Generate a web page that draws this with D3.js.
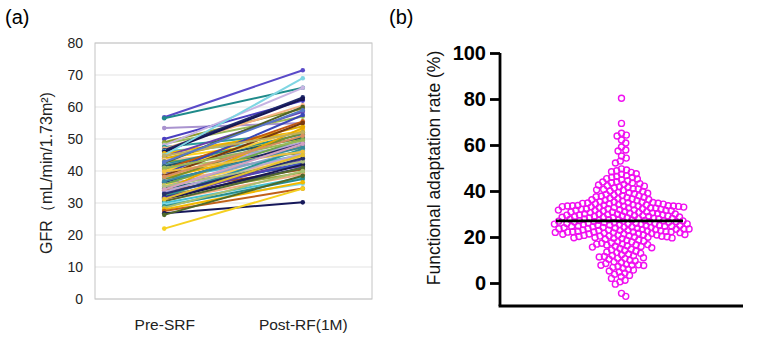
<!DOCTYPE html>
<html>
<head>
<meta charset="utf-8">
<script src="https://cdn.jsdelivr.net/npm/d3@7"></script>
<style>
  html, body { margin: 0; padding: 0; background: #fff; }
  svg { display: block; }
  text { font-family: Arial, "Liberation Sans", sans-serif; }
</style>
</head>
<body>
<svg id="chart" width="758" height="339"></svg>
<script>
// ---------------- DATA ----------------
// Panel (a): paired GFR values per patient
const timepoints = ["Pre-SRF", "Post-RF(1M)"];
const preGFR  = [56.8, 56.5, 53.4, 50.0, 49.0, 48.5, 48.0, 47.5, 47.0, 46.5, 46.2, 46.0, 45.5, 45.0, 44.5,
                 44.0, 43.8, 43.5, 43.0, 42.5, 42.0, 41.8, 41.5, 41.0, 40.5, 40.0, 39.5, 39.0, 38.8, 38.5,
                 38.0, 37.5, 37.2, 37.0, 36.5, 36.0, 35.8, 35.5, 35.0, 34.5, 34.0, 33.8, 33.5, 33.0, 32.5,
                 32.0, 31.8, 31.5, 31.0, 30.8, 30.5, 30.0, 29.5, 29.0, 28.5, 28.0, 27.5, 26.8, 26.3, 22.0,
                 44.8, 42.8, 40.8, 39.8, 38.2, 36.8, 35.2, 34.2, 32.8, 31.2];
const postGFR = [71.5, 66.0, 55.0, 62.0, 59.5, 57.0, 66.0, 52.0, 60.5, 63.0, 49.5, 62.5, 52.5, 69.0, 58.5,
                 50.0, 54.0, 47.0, 45.5, 60.0, 51.5, 48.0, 50.5, 46.0, 55.5, 53.0, 44.0, 57.5, 49.0, 55.0,
                 47.5, 45.0, 52.0, 43.0, 48.5, 41.5, 50.0, 44.5, 46.5, 42.0, 53.5, 40.5, 45.5, 42.5, 39.5,
                 47.0, 41.0, 43.5, 42.0, 39.0, 41.0, 38.0, 36.0, 37.5, 40.0, 36.5, 34.5, 30.2, 38.5, 34.5,
                 52.0, 59.0, 49.5, 46.0, 51.0, 47.5, 43.0, 48.5, 44.0, 45.0];
const gfrTicks = [0, 10, 20, 30, 40, 50, 60, 70, 80];

// Panel (b): functional adaptation rate (%) per patient
const adaptationRate = [
  80.3, 69.4, 65.1, 64.3, 63.9, 62.2, 60.9, 59.1, 57.8, 57.4, 55.2, 54.3, 53.0, 52.2,
  49.6, 49.1, 48.8, 48.4, 48.1, 47.5, 47.3, 46.7,
  46.3, 46.0, 45.9, 45.4, 45.2, 44.9, 44.5, 44.0, 43.9, 43.6, 43.5,
  43.2, 42.9, 42.6, 42.3, 42.1, 41.8, 41.5, 41.3, 41.0, 40.9, 40.7, 40.5,
  40.3, 40.0, 39.8, 39.5, 39.3, 39.0, 38.8, 38.5, 38.3, 38.0, 37.9, 37.7, 37.5,
  37.3, 37.1, 36.9, 36.7, 36.5, 36.3, 36.2, 36.0, 35.8, 35.6, 35.4, 35.2, 35.1, 35.0, 34.9, 34.8,
  34.7, 34.6, 34.5,
  34.4, 34.3, 34.1, 34.0, 33.9, 33.8, 33.7, 33.6, 33.6, 33.5, 33.5, 33.5, 33.4, 33.3, 33.2, 33.1,
  33.0, 32.9, 32.8, 32.6, 32.6, 32.5, 32.3, 32.3, 32.2, 32.0, 32.0, 31.9, 31.8, 31.7, 31.6, 31.5, 31.5,
  31.4, 31.3, 31.1, 31.0, 30.9, 30.8, 30.7, 30.6, 30.5, 30.4, 30.2, 30.1, 30.0, 29.9, 29.8, 29.7,
  29.6, 29.5, 29.4, 29.3, 29.2, 29.1, 29.0, 28.9, 28.8, 28.7, 28.6, 28.6, 28.5, 30.0,
  28.4, 28.3, 28.2, 28.1, 28.0, 27.9, 27.8, 27.7, 27.6, 27.5, 27.4, 27.3, 27.2, 27.1, 27.0, 27.0,
  26.9, 26.8, 26.7, 26.6, 26.5, 26.4, 26.3, 26.2, 26.1, 26.0, 25.9, 25.9, 25.8, 25.7, 25.6, 25.5, 26.6,
  25.4, 25.3, 25.2, 25.1, 25.0, 25.0, 24.9, 24.8, 24.7, 24.6, 24.6, 24.5, 24.4, 24.3, 24.2, 24.1,
  24.0, 23.9, 23.8, 23.7, 23.6, 23.5, 23.5, 23.4, 23.3, 23.2, 23.1, 23.0, 22.9, 22.8, 22.8,
  22.7, 22.6, 22.5,
  22.4, 22.3, 22.3, 22.2, 22.2, 22.1, 22.0, 21.9, 21.8, 21.7, 21.6, 21.5,
  21.4, 21.3, 21.2, 21.1, 21.0, 20.9, 20.8, 20.7, 20.6, 20.5, 20.4, 20.3, 20.2, 20.1, 20.0,
  19.9, 19.8, 19.7, 19.6, 19.5,
  19.3, 19.0, 18.7, 18.5, 18.2, 18.0, 17.8, 17.5, 17.3, 17.0, 16.9, 16.7, 16.6, 16.5,
  16.2, 16.0, 15.9, 15.6, 15.3, 15.0, 14.7, 14.4, 14.1, 13.8, 13.5,
  13.2, 12.9, 12.6, 12.3, 12.0, 11.8, 11.5, 11.3, 11.0, 10.8, 10.6,
  10.3, 9.9, 9.6, 9.2, 8.9, 8.5, 8.1, 7.9, 7.8, 7.7, 7.6,
  7.2, 6.8, 6.4, 6.0, 5.6, 5.2, 4.8,
  4.3, 3.8, 3.3, 2.7, 2.0,
  1.2, 0.5, -0.5, -4.5, -5.8
];
const meanRate = 27.0;   // horizontal mean line as drawn in the figure
const rateTicks = [0, 20, 40, 60, 80, 100];

// ---------------- STYLE ----------------
const lineColors = ["#5a4ac8", "#1f8a8a", "#a993cf", "#4a3fc0", "#8c9a2a", "#9bbb59", "#c7b3e2", "#2a9d9d",
                    "#f4b183", "#1f2a6a", "#4cc4d6", "#151555", "#f2b705", "#7fd6e3", "#6a3fb0", "#ffd21f",
                    "#e0b000", "#f6c29c", "#94a83a", "#4f6228", "#2b8f8f", "#8ea9c8", "#215968", "#a9c46c",
                    "#c55a11", "#ffcc33", "#e6b8b7", "#3b47b8", "#b5a3d8", "#7a3a10", "#f0b400", "#4ab7cf",
                    "#7d8f2a", "#f5b88f", "#1d2566", "#7050b8", "#6aa84f", "#ffd84a", "#8aa3c5", "#1c5f6b",
                    "#e8a800", "#a0521a", "#b9a6d6", "#3c4fc0", "#99a63a", "#2f9595", "#202a70", "#6040b0",
                    "#18184f", "#f2a980", "#556b2f", "#45c0d3", "#80d8e6", "#278c8c", "#a8c070", "#f3b900",
                    "#c0601a", "#16185a", "#4f6a2a", "#f5d020", "#c0b060", "#5878c8", "#98b858", "#f0c040",
                    "#d89060", "#3a8aa0", "#b0c080", "#d4a0c0", "#26306e", "#e3c030"];

const svg = d3.select("#chart");

// ---------------- PANEL (a) ----------------
const A = { left: 95, right: 372, top: 43, bottom: 299 };
const xA = d3.scalePoint().domain(timepoints).range([A.left, A.right]).padding(0.5);
const yA = d3.scaleLinear().domain([0, 80]).range([A.bottom, A.top]);

svg.append("text").attr("x", 5).attr("y", 24).attr("font-size", 20).text("(a)");

const gA = svg.append("g");
gA.selectAll("line.grid").data(gfrTicks).join("line")
  .attr("class", "grid")
  .attr("x1", A.left).attr("x2", A.right)
  .attr("y1", d => yA(d)).attr("y2", d => yA(d))
  .attr("stroke", "#e3e3e3").attr("stroke-width", 1);
gA.append("rect")
  .attr("x", A.left).attr("y", A.top)
  .attr("width", A.right - A.left).attr("height", A.bottom - A.top)
  .attr("fill", "none").attr("stroke", "#c4c4c4").attr("stroke-width", 1);

const yAxisA = d3.axisLeft(yA).tickValues(gfrTicks).tickSize(0).tickPadding(0);
const ya = gA.append("g").attr("transform", `translate(${A.left - 12},0)`).call(yAxisA);
ya.select(".domain").remove();
ya.selectAll("text").attr("font-size", 14).attr("fill", "#222")
  .attr("font-family", "Arial, 'Liberation Sans', sans-serif");

const xAxisA = d3.axisBottom(xA).tickSize(0).tickPadding(0);
const xa = gA.append("g").attr("transform", `translate(0,${A.bottom + 20})`).call(xAxisA);
xa.select(".domain").remove();
xa.selectAll("text").attr("font-size", 15.5).attr("fill", "#222")
  .attr("font-family", "Arial, 'Liberation Sans', sans-serif");

svg.append("text")
  .attr("transform", `translate(52,${173}) rotate(-90)`)
  .attr("text-anchor", "middle")
  .attr("font-size", 16).attr("fill", "#222")
  .text("GFR（mL/min/1.73m²)");

const pairs = preGFR.map((p, i) => ({ pre: p, post: postGFR[i], color: lineColors[i % lineColors.length] }));
const lineGen = d3.line().x(d => xA(d.t)).y(d => yA(d.v));
const pg = gA.selectAll("g.pat").data(pairs).join("g").attr("class", "pat");
pg.append("path")
  .attr("d", d => lineGen([{ t: timepoints[0], v: d.pre }, { t: timepoints[1], v: d.post }]))
  .attr("stroke", d => d.color).attr("stroke-width", 2).attr("fill", "none");
pg.append("circle").attr("cx", xA(timepoints[0])).attr("cy", d => yA(d.pre)).attr("r", 2.3).attr("fill", d => d.color);
pg.append("circle").attr("cx", xA(timepoints[1])).attr("cy", d => yA(d.post)).attr("r", 2.3).attr("fill", d => d.color);

// ---------------- PANEL (b) ----------------
const B = { left: 500, right: 743, top: 53, bottom: 306 };
const yB = d3.scaleLinear().domain([-10, 100]).range([B.bottom, B.top]);
const xCenter = (B.left + B.right) / 2;

svg.append("text").attr("x", 389).attr("y", 24).attr("font-size", 20).text("(b)");

svg.append("text")
  .attr("transform", `translate(440,${168}) rotate(-90)`)
  .attr("text-anchor", "middle")
  .attr("font-size", 17.5).attr("fill", "#111")
  .text("Functional adaptation rate (%)");

// beeswarm placement
const R = 3, SEP = 5.2;
const pts = adaptationRate.map(v => ({ v, y: yB(v) })).sort((a, b) => a.y - b.y);
const placed = [];
pts.forEach(p => {
  const near = placed.filter(q => Math.abs(q.y - p.y) < SEP);
  const cands = [0];
  near.forEach(q => {
    const dx = Math.sqrt(SEP * SEP - (q.y - p.y) ** 2);
    cands.push(q.dx + dx, q.dx - dx);
  });
  cands.sort((a, b) => Math.abs(a) - Math.abs(b));
  for (const c of cands) {
    if (near.every(q => (q.dx - c) ** 2 + (q.y - p.y) ** 2 >= SEP * SEP - 1e-6)) { p.dx = c; break; }
  }
  placed.push(p);
});

svg.append("g").selectAll("circle").data(placed).join("circle")
  .attr("cx", d => xCenter + d.dx).attr("cy", d => d.y).attr("r", R)
  .attr("fill", "none").attr("stroke", "#f010f0").attr("stroke-width", 1.4);

svg.append("line")
  .attr("x1", 556).attr("x2", 683)
  .attr("y1", yB(meanRate)).attr("y2", yB(meanRate))
  .attr("stroke", "#000").attr("stroke-width", 2.8);

const yAxisB = d3.axisLeft(yB).tickValues(rateTicks).tickSize(10).tickPadding(4);
const yb = svg.append("g").attr("transform", `translate(${B.left},0)`).call(yAxisB);
yb.select(".domain").attr("d", `M0,${B.top}V${B.bottom}`).attr("stroke-width", 2.8);
yb.selectAll(".tick line").attr("stroke-width", 2.8);
yb.selectAll("text").attr("font-size", 20).attr("font-weight", "bold").attr("fill", "#000")
  .attr("font-family", "Arial, 'Liberation Sans', sans-serif");

svg.append("line")
  .attr("x1", B.left - 1.4).attr("x2", B.right)
  .attr("y1", B.bottom).attr("y2", B.bottom)
  .attr("stroke", "#000").attr("stroke-width", 2.8);
</script>
</body>
</html>
